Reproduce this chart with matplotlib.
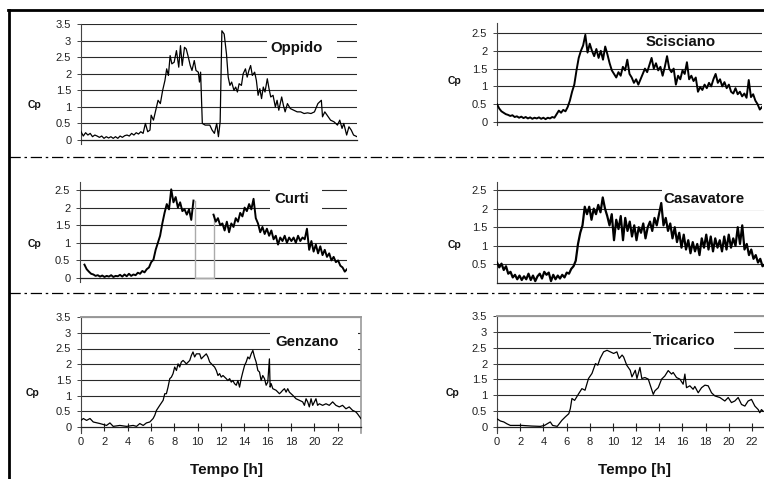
import numpy as np
import matplotlib
matplotlib.use('Agg')
import matplotlib.pyplot as plt
from matplotlib.lines import Line2D
from matplotlib.patches import Rectangle

plt.rcParams['font.family'] = ['Liberation Sans', 'DejaVu Sans']

W, H = 764, 479

# ---------------- data ----------------
oppido_h = [0.0, 0.2, 0.4, 0.6, 0.8, 1.0, 1.2, 1.4, 1.6, 1.8, 2.0, 2.2, 2.4, 2.6, 2.8, 3.0, 3.2, 3.4, 3.6, 3.8,
            4.0, 4.2, 4.4, 4.6, 4.8, 5.0, 5.2, 5.4, 5.6, 5.8, 6.0, 6.1, 6.3, 6.5, 6.7, 6.9, 7.1, 7.3, 7.45, 7.6,
            7.75, 7.9, 8.1, 8.3, 8.5, 8.65, 8.8, 9.0, 9.15, 9.3, 9.5, 9.65, 9.85, 10.0, 10.2, 10.3, 10.4, 10.55,
            10.8, 11.0, 11.2, 11.4, 11.6, 11.8, 11.95, 12.1, 12.25, 12.45, 12.65, 12.8, 12.95, 13.1, 13.3, 13.45,
            13.6, 13.75, 13.95, 14.1, 14.3, 14.45, 14.6, 14.75, 14.9, 15.1, 15.25, 15.4, 15.55, 15.7, 15.85, 16.0,
            16.2, 16.35, 16.5, 16.7, 16.9, 17.05, 17.2, 17.45, 17.6, 17.75, 17.95, 18.2, 18.5, 18.8, 19.1, 19.4,
            19.7, 20.0, 20.3, 20.6, 20.9, 21.0, 21.2, 21.4, 21.7, 22.0, 22.3, 22.5, 22.7, 22.85, 23.1, 23.3, 23.5,
            23.7, 24.0]
oppido_v = [0.25, 0.12, 0.22, 0.15, 0.2, 0.1, 0.15, 0.12, 0.08, 0.12, 0.05, 0.1, 0.06, 0.1, 0.05, 0.1, 0.05, 0.12, 0.08, 0.13,
            0.15, 0.12, 0.2, 0.15, 0.22, 0.18, 0.25, 0.2, 0.5, 0.25, 0.3, 0.75, 0.6, 0.9, 1.2, 1.1, 1.5, 1.8, 2.15, 1.95,
            2.55, 2.3, 2.35, 2.7, 2.2, 2.85, 2.25, 2.8, 2.75, 2.55, 2.25, 2.1, 2.4, 2.1, 2.05, 1.75, 2.05, 0.5,
            0.45, 0.45, 0.45, 0.3, 0.2, 0.5, 0.1, 0.55, 3.3, 3.2, 2.6, 1.9, 1.65, 1.75, 1.5, 1.6,
            1.45, 1.7, 1.65, 2.0, 2.15, 1.9, 2.1, 2.25, 1.95, 2.05, 1.8, 1.35, 1.55, 1.25, 1.6, 1.45,
            1.85, 1.55, 1.3, 1.35, 1.0, 1.2, 0.9, 1.3, 1.05, 0.85, 1.1, 0.95, 0.9, 0.85, 0.85, 0.8,
            0.82, 0.8, 0.85, 1.1, 1.2, 0.7, 0.85, 0.75, 0.6, 0.55, 0.45, 0.6, 0.35, 0.5, 0.15, 0.4, 0.3,
            0.15, 0.1]

grid_h = np.round(np.arange(0, 24.001, 0.2), 2)

scisciano_v = [0.50, 0.38, 0.30, 0.26, 0.22, 0.20, 0.17, 0.19, 0.14, 0.16, 0.12, 0.15, 0.11, 0.14, 0.10, 0.13,
               0.09, 0.12, 0.10, 0.13, 0.09, 0.12, 0.08, 0.12, 0.10, 0.14, 0.12, 0.22, 0.32, 0.26, 0.34, 0.30,
               0.42, 0.60, 0.85, 1.05, 1.45, 1.80, 2.00, 2.15, 2.45, 1.95, 2.20, 2.00, 1.85, 2.05, 1.80, 2.00,
               1.75, 2.12, 1.90, 1.65, 1.45, 1.35, 1.25, 1.40, 1.30, 1.55, 1.45, 1.75, 1.35, 1.25, 1.10, 1.20,
               1.05, 1.20, 1.35, 1.50, 1.40, 1.60, 1.80, 1.50, 1.65, 1.45, 1.55, 1.30, 1.55, 1.85, 1.50, 1.40,
               1.50, 1.05, 1.30, 1.20, 1.45, 1.35, 1.68, 1.20, 1.30, 1.15, 1.25, 0.85, 0.98, 0.90, 1.05, 0.95,
               1.10, 1.00, 1.20, 1.35, 1.10, 1.20, 1.00, 1.12, 0.95, 1.05, 0.85, 0.80, 0.95, 0.78, 0.85, 0.72,
               0.80, 0.68, 1.18, 0.70, 0.78, 0.60, 0.50, 0.35, 0.42]

casavatore_v = [0.55, 0.42, 0.52, 0.35, 0.45, 0.25, 0.30, 0.15, 0.22, 0.10, 0.20, 0.08, 0.18, 0.10, 0.25, 0.08,
                0.20, 0.05, 0.18, 0.25, 0.12, 0.30, 0.22, 0.28, 0.05, 0.22, 0.10, 0.20, 0.12, 0.22, 0.15, 0.28,
                0.25, 0.38, 0.45, 0.60, 1.05, 1.35, 1.55, 2.05, 1.85, 2.05, 1.70, 2.00, 1.85, 2.10, 1.90, 2.30,
                2.00, 1.80, 1.55, 1.85, 1.15, 1.70, 1.45, 1.80, 1.15, 1.75, 1.40, 1.65, 1.25, 1.55, 1.15, 1.50,
                1.35, 1.60, 1.20, 1.50, 1.65, 1.40, 1.75, 1.55, 1.85, 2.15, 1.55, 1.75, 1.40, 1.60, 1.20, 1.50,
                1.10, 1.35, 0.95, 1.30, 0.90, 1.15, 0.80, 1.10, 0.85, 1.05, 0.75, 1.20, 0.95, 1.30, 0.90, 1.25,
                0.85, 1.20, 0.95, 1.15, 0.85, 1.25, 0.90, 1.30, 0.95, 1.20, 1.00, 1.50, 1.05, 1.55, 0.90, 1.05,
                0.75, 0.90, 0.65, 0.75, 0.55, 0.65, 0.45, 0.50, 0.35]

nan = np.nan
curti_v = [nan, nan, 0.38, 0.25, 0.18, 0.12, 0.10, 0.06, 0.08, 0.04, 0.07, 0.03, 0.06, 0.04, 0.08, 0.03,
           0.06, 0.05, 0.09, 0.04, 0.10, 0.05, 0.12, 0.06, 0.10, 0.08, 0.15, 0.12, 0.20, 0.16, 0.25, 0.30,
           0.45, 0.52, 0.80, 1.00, 1.20, 1.55, 1.85, 2.10, 1.95, 2.52, 2.15, 2.30, 2.00, 2.15, 1.90, 1.95,
           1.80, 1.95, 1.65, 2.20, nan, nan, nan, nan, nan, nan, nan, nan, 1.80, 1.60, 1.70, 1.50,
           1.55, 1.35, 1.60, 1.30, 1.55, 1.45, 1.70, 1.60, 1.85, 1.75, 2.00, 1.90, 2.10, 1.95, 2.25, 1.70,
           1.55, 1.30, 1.45, 1.25, 1.40, 1.20, 1.35, 1.10, 1.20, 0.95, 1.15, 1.05, 1.20, 1.00, 1.15, 1.05,
           1.15, 1.00, 1.20, 1.05, 1.15, 1.10, 1.40, 0.80, 1.05, 0.75, 0.95, 0.70, 0.90, 0.65, 0.80, 0.60,
           0.70, 0.50, 0.60, 0.45, 0.50, 0.35, 0.30, 0.18, 0.25]
curti_gap_h = [10.3, 10.3, 12.0, 12.0]
curti_gap_v = [2.2, 0.0, 0.0, 1.8]

genzano_h = [0.00, 0.20, 0.48, 0.77, 1.05, 1.62, 2.19, 2.48, 2.76, 3.33, 3.90, 4.47, 4.76, 5.04, 5.33, 5.61,
             5.90, 6.18, 6.32, 6.47, 6.75, 7.04, 7.18, 7.32, 7.46, 7.61, 7.75, 7.89, 8.03, 8.18, 8.32, 8.46,
             8.60, 8.75, 8.89, 9.03, 9.32, 9.46, 9.60, 9.74, 9.89, 10.17, 10.31, 10.46, 10.60, 10.74, 10.88,
             11.03, 11.31, 11.45, 11.60, 11.74, 11.88, 12.02, 12.17, 12.45, 12.59, 12.74, 12.88, 13.02, 13.16,
             13.31, 13.45, 13.59, 13.73, 13.87, 14.02, 14.16, 14.30, 14.44, 14.59, 14.73, 14.87, 15.01, 15.16,
             15.30, 15.44, 15.58, 15.73, 15.87, 16.01, 16.15, 16.21, 16.30, 16.44, 16.72, 17.01, 17.15, 17.29,
             17.44, 17.58, 17.72, 17.86, 18.15, 18.43, 18.72, 19.00, 19.15, 19.29, 19.43, 19.57, 19.72, 19.86,
             20.14, 20.28, 20.43, 20.71, 21.00, 21.28, 21.57, 21.85, 22.14, 22.42, 22.71, 22.99, 23.28, 23.56,
             23.70, 23.99]
genzano_v = [0.21, 0.27, 0.21, 0.27, 0.16, 0.11, 0.05, 0.13, 0.02, 0.05, 0.02, 0.05, 0.02, 0.11, 0.05, 0.13,
             0.16, 0.27, 0.37, 0.53, 0.69, 0.85, 1.06, 1.06, 1.27, 1.54, 1.59, 1.70, 1.91, 1.80, 2.01, 1.91,
             2.07, 2.12, 2.07, 2.01, 2.12, 2.28, 2.39, 2.23, 2.33, 2.33, 2.17, 2.23, 2.28, 2.33, 2.23,
             2.07, 1.96, 1.91, 1.80, 1.64, 1.70, 1.59, 1.64, 1.54, 1.48, 1.54, 1.43, 1.48, 1.38,
             1.33, 1.48, 1.27, 1.54, 1.75, 1.96, 2.07, 2.23, 2.17, 2.33, 2.44, 2.23, 2.07, 1.80,
             1.75, 1.48, 1.64, 1.54, 1.33, 1.43, 2.17, 1.27, 1.38, 1.22, 1.17, 1.06, 1.11, 1.17,
             1.22, 1.11, 1.22, 1.11, 1.01, 0.90, 0.85, 0.80, 0.69, 0.90, 0.80, 0.64, 0.90, 0.69,
             0.90, 0.69, 0.74, 0.69, 0.74, 0.69, 0.80, 0.69, 0.64, 0.69, 0.58, 0.64, 0.53, 0.48,
             0.42, 0.27]

tricarico_h = [0.00, 0.29, 0.58, 0.86, 1.15, 2.16, 3.00, 3.74, 4.10, 4.60, 4.80, 5.20, 5.60, 5.90, 6.20, 6.33,
               6.47, 6.70, 7.05, 7.33, 7.60, 7.90, 8.20, 8.50, 8.70, 8.90, 9.20, 9.50, 9.78, 10.07, 10.35,
               10.55, 10.80, 10.93, 11.20, 11.50, 11.65, 11.94, 12.08, 12.34, 12.50, 12.77, 13.06, 13.49, 13.63,
               13.92, 14.21, 14.49, 14.78, 15.07, 15.21, 15.50, 15.79, 16.07, 16.22, 16.36, 16.65, 16.93, 17.08,
               17.37, 17.66, 17.95, 18.23, 18.52, 18.81, 19.24, 19.67, 19.96, 20.24, 20.53, 20.82, 21.11, 21.40,
               21.68, 21.97, 22.26, 22.55, 22.69, 22.83, 22.97]
tricarico_v = [0.26, 0.19, 0.16, 0.10, 0.05, 0.05, 0.03, 0.02, 0.05, 0.16, 0.05, 0.02, 0.21, 0.32, 0.42, 0.58,
               0.90, 0.84, 1.05, 1.21, 1.16, 1.53, 1.69, 2.00, 1.95, 2.16, 2.37, 2.42, 2.37, 2.32, 2.37,
               2.16, 2.27, 2.21, 1.95, 1.79, 1.58, 1.79, 1.53, 1.88, 1.53, 1.56, 1.51, 1.03, 1.14,
               1.24, 1.51, 1.61, 1.78, 1.67, 1.72, 1.56, 1.51, 1.35, 1.67, 1.24, 1.30, 1.19, 1.28,
               1.08, 1.24, 1.32, 1.30, 1.08, 0.98, 0.93, 0.82, 0.93, 0.77, 0.82, 0.93, 0.71, 0.66,
               0.82, 0.87, 0.66, 0.55, 0.45, 0.55, 0.50]

ticks_35 = [0, 0.5, 1, 1.5, 2, 2.5, 3, 3.5]
labels_35 = ['0', '0.5', '1', '1.5', '2', '2.5', '3', '3.5']
ticks_25 = [0, 0.5, 1, 1.5, 2, 2.5]
labels_25 = ['0', '0.5', '1', '1.5', '2', '2.5']
hour_ticks = list(range(0, 23, 2))

# ---------------- figure ----------------
fig = plt.figure(figsize=(W / 100, H / 100), dpi=100)


def make_axes(left, right, y0, ppu, ylim):
    bottom_px = y0 - ylim[0] * ppu
    top_px = y0 - ylim[1] * ppu
    ax = fig.add_axes([left / W, 1 - bottom_px / H, (right - left) / W, (bottom_px - top_px) / H])
    ax.set_xlim(0, 24)
    ax.set_ylim(*ylim)
    ax.patch.set_alpha(0)
    return ax


def style(ax, yticks, ylabels, xlabels=False):
    ax.spines['top'].set_visible(False)
    ax.spines['right'].set_visible(False)
    ax.spines['bottom'].set_position(('data', 0))
    ax.spines['bottom'].set_color('#222222')
    ax.spines['bottom'].set_linewidth(0.9)
    ax.spines['left'].set_color('#444444')
    ax.spines['left'].set_linewidth(0.8)
    ax.set_yticks(yticks)
    ax.set_yticklabels(ylabels)
    ax.tick_params(axis='y', length=3, width=0.7, pad=4, labelsize=8,
                   color='#444444', labelcolor='#222222')
    for v in yticks:
        if v > 0:
            ax.axhline(v, color='#2a2a2a', lw=0.8, zorder=1)
    if xlabels:
        ax.set_xticks(hour_ticks)
        ax.set_xticklabels([str(t) for t in hour_ticks])
        ax.tick_params(axis='x', direction='inout', length=6, width=0.8, pad=4,
                       labelsize=8, color='#222222', labelcolor='#222222')
    else:
        ax.set_xticks([])


def legend(ax, name, xc, yc, box=None):
    if box is not None:
        x0, x1, y0, y1 = box
        ax.add_patch(Rectangle((x0, y0), x1 - x0, y1 - y0, facecolor='white',
                               edgecolor='none', zorder=2, clip_on=False))
    ax.text(xc, yc, name, ha='center', va='center', fontsize=10.8,
            fontweight='bold', color='#111111', zorder=5)


def cp(xpx, ypx):
    fig.text(xpx / W, 1 - ypx / H, 'Cp', ha='center', va='center', fontsize=7.5,
             fontweight='bold', color='#111111')


# Oppido
ax1 = make_axes(81, 357, 140, 33.1, (-0.12, 3.5))
style(ax1, ticks_35, labels_35)
ax1.plot(oppido_h, oppido_v, color='black', lw=0.9, zorder=4)
legend(ax1, 'Oppido', 18.74, 2.78, box=(16.2, 22.3, 2.42, 3.1))
cp(34, 105)

# Scisciano
ax2 = make_axes(497, 762, 122, 35.6, (-0.08, 2.78))
style(ax2, ticks_25, labels_25)
ax2.plot(grid_h, scisciano_v, color='black', lw=1.4, zorder=4)
legend(ax2, 'Scisciano', 16.67, 2.25)
cp(454, 81)

# Curti
ax3 = make_axes(80, 347, 278, 35.2, (-0.11, 2.73))
style(ax3, ticks_25, labels_25)
ax3.plot(curti_gap_h, curti_gap_v, color='#aaaaaa', lw=1.0, zorder=3)
ax3.plot(grid_h, curti_v, color='black', lw=1.4, zorder=4)
legend(ax3, 'Curti', 19.0, 2.25, box=(17.1, 21.75, 1.93, 2.57))
cp(34, 244)

# Casavatore
ax4 = make_axes(497, 767, 283, 37.2, (0.0, 2.71))
style(ax4, ticks_25[1:], labels_25[1:])
ax4.plot(grid_h, casavatore_v, color='black', lw=1.6, zorder=4)
legend(ax4, 'Casavatore', 18.36, 2.25, box=(14.7, 25.0, 1.95, 2.6))
cp(454, 245)

# Genzano
ax5 = make_axes(81, 361, 427, 31.4, (-0.2, 3.5))
style(ax5, ticks_35, labels_35, xlabels=True)
ax5.spines['top'].set_visible(True)
ax5.spines['right'].set_visible(True)
ax5.spines['top'].set_color('#9a9a9a')
ax5.spines['top'].set_linewidth(1.4)
ax5.spines['right'].set_color('#9a9a9a')
ax5.spines['right'].set_linewidth(1.2)
ax5.plot(genzano_h, genzano_v, color='black', lw=0.9, zorder=4)
legend(ax5, 'Genzano', 19.4, 2.7, box=(16.2, 23.75, 2.4, 3.1))
cp(33, 393)

# Tricarico
ax6 = make_axes(497, 775, 427, 31.7, (-0.2, 3.5))
style(ax6, ticks_35, labels_35, xlabels=True)
ax6.spines['top'].set_visible(True)
ax6.spines['top'].set_color('#9a9a9a')
ax6.spines['top'].set_linewidth(1.4)
ax6.plot(tricarico_h, tricarico_v, color='black', lw=0.9, zorder=4)
legend(ax6, 'Tricarico', 16.19, 2.72, box=(13.3, 20.47, 2.4, 3.1))
cp(452, 393)

fig.text(227 / W, 1 - 470 / H, 'Tempo [h]', ha='center', va='center', fontsize=11,
         fontweight='bold', color='#111111')
fig.text(634 / W, 1 - 470 / H, 'Tempo [h]', ha='center', va='center', fontsize=11,
         fontweight='bold', color='#111111')

# frame and separators
fig.add_artist(Line2D([8 / W, 1], [1 - 10 / H, 1 - 10 / H], color='black', lw=2.0,
                      transform=fig.transFigure))
fig.add_artist(Line2D([8.5 / W, 8.5 / W], [1 - 10 / H, 0], color='black', lw=2.0,
                      transform=fig.transFigure))
for ysep in (157, 293):
    fig.add_artist(Line2D([9 / W, 1], [1 - ysep / H, 1 - ysep / H], color='black', lw=0.9,
                          linestyle=(0, (9, 3, 2, 3)), transform=fig.transFigure))

fig.savefig('out.png', dpi=100)
